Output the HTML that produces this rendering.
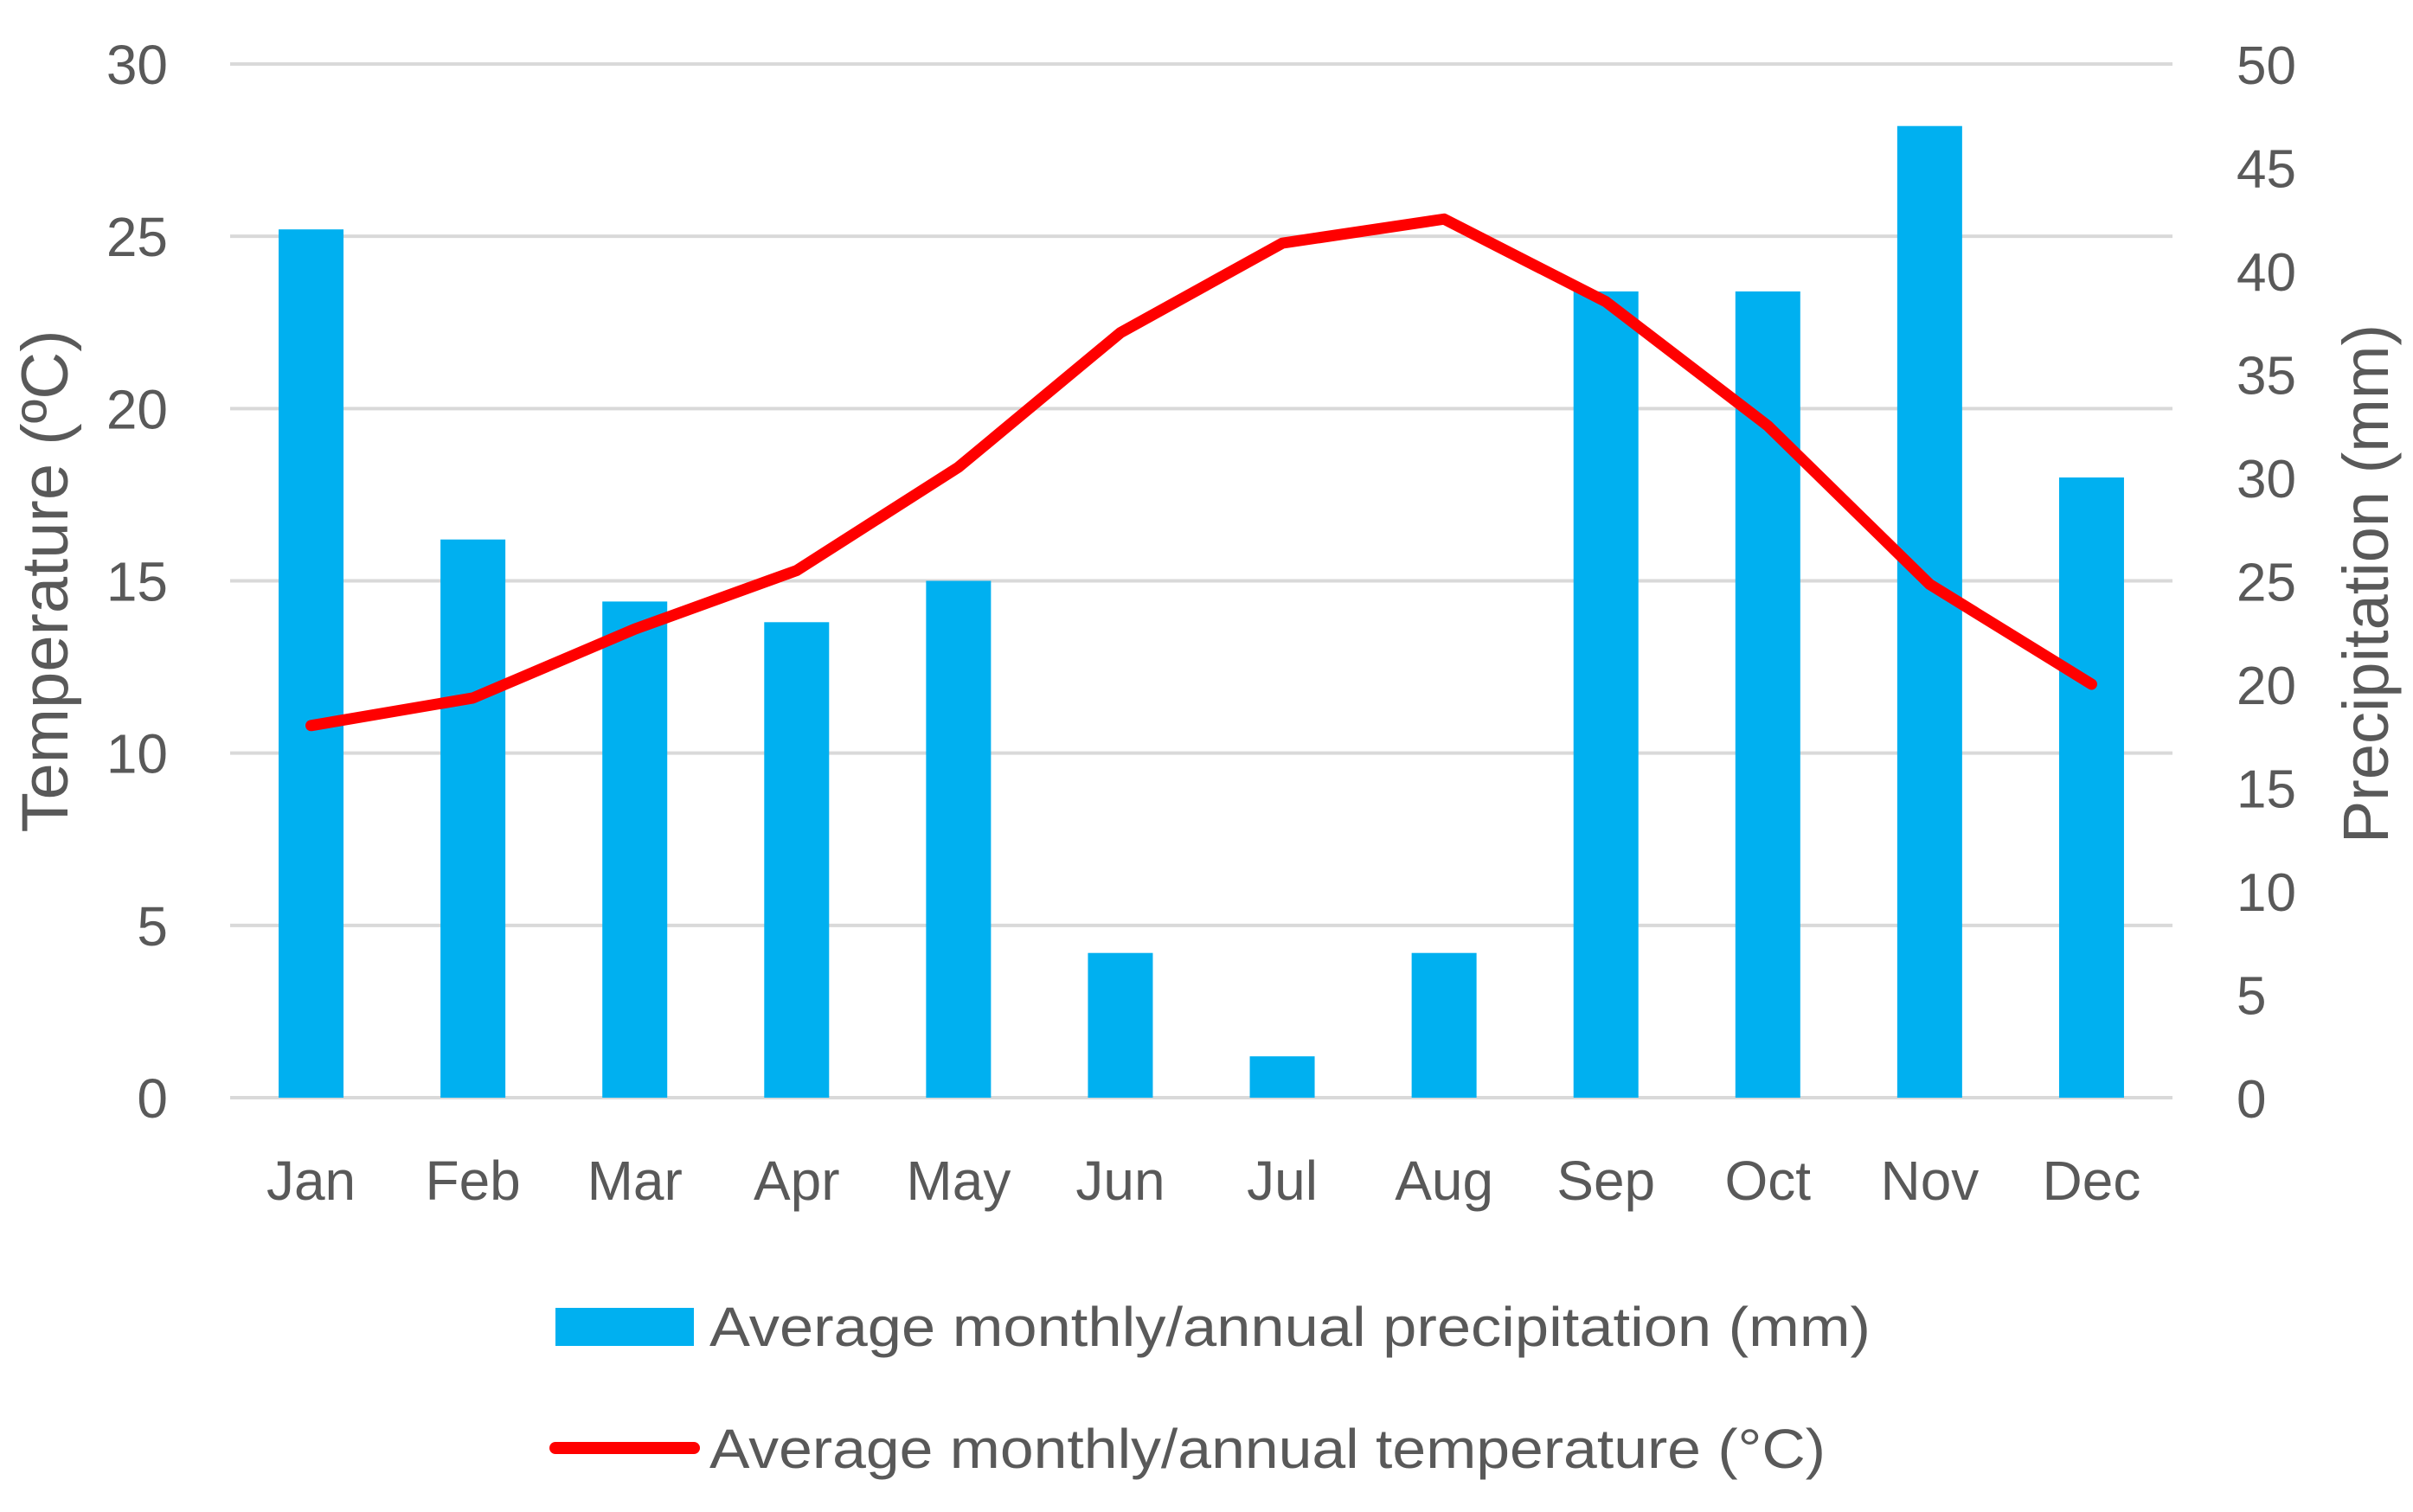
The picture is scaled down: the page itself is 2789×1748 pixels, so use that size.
<!DOCTYPE html>
<html><head><meta charset="utf-8">
<style>
html,body{margin:0;padding:0;background:#fff;}
svg{display:block;font-family:"Liberation Sans",sans-serif;fill:#595959;}
</style></head>
<body>
<svg id="chart" width="2789" height="1748" viewBox="0 0 2789 1748" xmlns="http://www.w3.org/2000/svg">
<g id="grid"></g>
<g id="bars"></g>
<g id="line"></g>
<g id="ylabels"></g>
<g id="y2labels"></g>
<g id="xlabels"></g>
<text transform="translate(78,672) rotate(-90)" text-anchor="middle" font-size="76">Temperature (ºC)</text>
<text transform="translate(2760,675) rotate(-90)" text-anchor="middle" font-size="74">Precipitation (mm)</text>
<g>
  <rect x="642" y="1512" width="160" height="44" fill="#00B0F0"/>
  <text x="820" y="1556" font-size="64" textLength="1342" lengthAdjust="spacingAndGlyphs">Average monthly/annual precipitation (mm)</text>
  <line x1="642" y1="1674" x2="802" y2="1674" stroke="#FF0000" stroke-width="14" stroke-linecap="round"/>
  <text x="820" y="1697" font-size="64" textLength="1290" lengthAdjust="spacingAndGlyphs">Average monthly/annual temperature (°C)</text>
</g>
</svg>
<script>
const months = ["Jan","Feb","Mar","Apr","May","Jun","Jul","Aug","Sep","Oct","Nov","Dec"];
const precipitation = [42,27,24,23,25,7,2,7,39,39,47,30];
const temperature = [10.8,11.6,13.6,15.3,18.3,22.2,24.8,25.5,23.1,19.5,14.9,12.0];
const tempTicks = [0,5,10,15,20,25,30];
const precipTicks = [0,5,10,15,20,25,30,35,40,45,50];

const NS = "http://www.w3.org/2000/svg";
const L = 266, R = 2511, T = 74, B = 1269;
const band = (R - L) / months.length;
const xc = i => L + band * (i + 0.5);
const yT = v => B - (v / 30) * (B - T);
const yP = v => B - (v / 50) * (B - T);
function mk(tag, attrs, parent) {
  const e = document.createElementNS(NS, tag);
  for (const k in attrs) e.setAttribute(k, attrs[k]);
  parent.appendChild(e);
  return e;
}
const grid = document.getElementById('grid');
const ylab = document.getElementById('ylabels');
tempTicks.forEach(v => {
  const g = mk('line', {x1: L, x2: R, y1: yT(v), y2: yT(v), stroke: '#D9D9D9', 'stroke-width': 4}, grid);
  
  
  const t = mk('text', {x: 194, y: yT(v) + 23, 'text-anchor': 'end', 'font-size': 64}, ylab);
  t.textContent = v;
  
  
});
const y2 = document.getElementById('y2labels');
precipTicks.forEach(v => {
  const t = mk('text', {x: 2585, y: yP(v) + 23, 'text-anchor': 'start', 'font-size': 62}, y2);
  t.textContent = v;
  
  
});
const bars = document.getElementById('bars');
const bw = 75;
precipitation.forEach((v, i) => {
  const r = mk('rect', {x: xc(i) - bw / 2, y: yP(v), width: bw, height: B - yP(v), fill: '#00B0F0'}, bars);
  
  
});
const xl = document.getElementById('xlabels');
months.forEach((m, i) => {
  const t = mk('text', {x: xc(i), y: 1387, 'text-anchor': 'middle', 'font-size': 64}, xl);
  t.textContent = m;
  
  
});
const pts = temperature.map((v, i) => xc(i) + ',' + yT(v)).join(' ');
const pl = mk('polyline', {points: pts, fill: 'none', stroke: '#FF0000', 'stroke-width': 13, 'stroke-linejoin': 'round', 'stroke-linecap': 'round'}, document.getElementById('line'));


</script>
</body></html>
